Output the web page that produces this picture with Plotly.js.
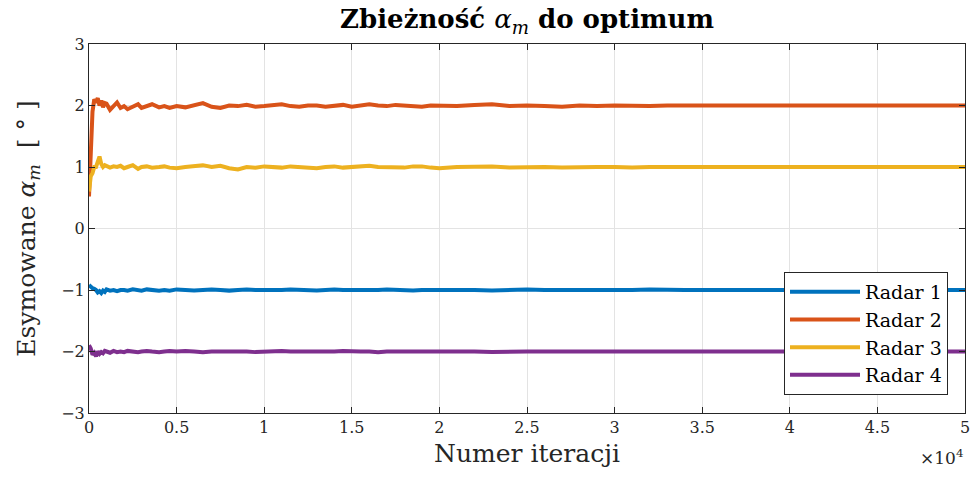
<!DOCTYPE html>
<html>
<head>
<meta charset="utf-8">
<script src="https://cdn.plot.ly/plotly-3.0.1.min.js"></script>
<style>
  html, body { margin: 0; padding: 0; background: #ffffff; }
  #chart { width: 973px; height: 483px; }
</style>
</head>
<body>
<div id="chart"></div>
<script>
// Iteration numbers at which the estimates are sampled
const iterations = [0, 100, 200, 300, 400, 500, 600, 700, 800, 900, 1000, 1200, 1400, 1600, 1800, 2000,
  2200, 2500, 2800, 3000, 3300, 3600, 4000, 4300, 4600, 5000, 5500, 6000, 6500, 7000, 7500, 8000, 8500,
  9000, 9500, 10000, 10500, 11000, 11500, 12000, 12500, 13000, 13500, 14000, 14500, 15000, 15500, 16000,
  16500, 17000, 17500, 18000, 18500, 19000, 19500, 20000, 21000, 22000, 23000, 24000, 25000, 26000,
  27000, 28000, 29000, 30000, 31000, 32000, 33000, 34000, 36000, 38000, 40000, 42000, 44000, 46000,
  48000, 50000];

// Estimated alpha_m for each radar [deg]
const radar1 = [-0.92, -0.95, -0.97, -0.98, -1.00, -1.04, -1.02, -1.05, -1.01, -1.03, -0.99, -1.01, -1.00, -1.02, -1.00, -1.00,
  -1.01, -0.99, -1.00, -1.01, -0.99, -1.00, -1.01, -1.00, -1.01, -0.99, -1.00, -1.01, -1.00, -0.99, -1.00, -1.01, -1.00,
  -0.99, -1.00, -1.00, -1.01, -1.00, -0.99, -1.00, -1.00, -1.01, -1.00, -0.99, -1.00, -1.00, -1.01, -1.00,
  -1.00, -0.99, -1.00, -1.00, -1.01, -1.00, -1.00, -0.99, -1.00, -1.00, -1.01, -1.00, -0.99, -1.00,
  -1.00, -1.00, -1.01, -1.00, -1.00, -0.99, -1.00, -1.00, -1.00, -1.00, -1.00, -1.00, -1.00, -1.00,
  -1.00, -1.00];
const radar2 = [0.52, 1.20, 1.90, 2.10, 2.05, 2.12, 2.00, 2.08, 1.97, 2.04, 2.03, 1.93, 1.98, 2.05, 1.96, 1.99,
  1.94, 1.98, 2.02, 1.96, 1.99, 2.02, 1.97, 1.99, 1.96, 1.99, 1.97, 2.00, 2.04, 1.98, 1.96, 2.00, 1.99,
  2.01, 1.98, 1.99, 2.00, 2.02, 1.99, 1.98, 2.00, 2.00, 1.98, 1.99, 2.01, 1.98, 2.00, 2.02,
  2.00, 1.99, 2.01, 2.00, 1.98, 1.98, 2.00, 2.00, 1.99, 2.01, 2.02, 1.99, 2.00, 1.99,
  1.98, 2.00, 1.99, 2.00, 1.99, 1.99, 2.00, 2.00, 1.99, 2.00, 2.00, 1.99, 2.00, 2.00,
  2.00, 2.00];
const radar3 = [0.60, 0.85, 0.90, 1.00, 1.00, 1.08, 1.17, 1.05, 1.00, 1.03, 1.02, 0.99, 1.01, 1.00, 1.02, 0.98,
  1.00, 1.03, 0.97, 1.00, 1.01, 0.99, 1.00, 1.01, 0.99, 0.98, 1.00, 1.01, 1.03, 1.00, 1.02, 0.98, 0.96,
  1.00, 0.99, 1.01, 1.00, 0.99, 1.01, 1.00, 0.98, 0.98, 1.00, 1.01, 0.99, 1.00, 1.01, 1.02,
  1.00, 1.00, 0.99, 0.99, 1.01, 1.01, 0.99, 0.98, 1.00, 1.00, 1.01, 0.99, 1.00, 1.00,
  0.99, 1.00, 1.00, 1.00, 0.99, 1.00, 1.00, 1.00, 1.00, 1.00, 1.00, 1.00, 1.00, 1.00,
  1.00, 1.00];
const radar4 = [-1.90, -1.95, -2.05, -2.02, -2.08, -2.00, -2.04, -2.01, -2.03, -1.99, -2.00, -2.02, -1.99, -2.01, -2.00, -2.01,
  -1.99, -2.00, -2.01, -2.00, -1.99, -2.00, -2.01, -2.00, -1.99, -2.00, -1.99, -2.00, -2.01, -2.00, -2.00, -1.99, -2.00,
  -2.00, -2.01, -2.00, -2.00, -1.99, -2.00, -2.00, -2.01, -2.00, -2.00, -2.00, -1.99, -2.00, -2.00, -2.00,
  -2.01, -2.00, -2.00, -2.00, -1.99, -2.00, -2.00, -2.00, -2.00, -2.00, -2.01, -2.00, -2.00, -2.00,
  -2.00, -1.99, -2.00, -2.00, -2.00, -2.00, -2.00, -2.00, -2.00, -2.00, -2.00, -2.00, -2.00, -2.00,
  -2.00, -2.00];

const seriesNames = ['Radar 1', 'Radar 2', 'Radar 3', 'Radar 4'];
const seriesColors = ['#0072BD', '#D95319', '#EDB120', '#7E2F8E'];

// Axis ticks: iterations shown in units of 10^4
const xTickVals = [0, 5000, 10000, 15000, 20000, 25000, 30000, 35000, 40000, 45000, 50000];
const xTickText = ['0', '0.5', '1', '1.5', '2', '2.5', '3', '3.5', '4', '4.5', '5'];
const yTickVals = [-3, -2, -1, 0, 1, 2, 3];

const serif = 'DejaVu Serif';
const ink = '#262626';

const traces = [radar1, radar2, radar3, radar4].map((ys, i) => ({
  type: 'scatter',
  mode: 'lines',
  name: '<span style="font-family:DejaVu Serif">' + seriesNames[i] + '</span>',
  x: iterations,
  y: ys,
  line: { color: seriesColors[i], width: 4 }
}));

const axisCommon = {
  showline: true,
  mirror: 'ticks',
  linecolor: ink,
  linewidth: 1,
  ticks: 'inside',
  ticklen: 6,
  tickcolor: ink,
  showgrid: true,
  gridcolor: '#e3e3e3',
  gridwidth: 1,
  zeroline: false,
  tickfont: { family: serif, size: 16, color: ink }
};

const layout = {
  width: 973,
  height: 483,
  paper_bgcolor: '#ffffff',
  plot_bgcolor: '#ffffff',
  margin: { l: 89, r: 8, t: 44, b: 70 },
  showlegend: true,
  font: { family: serif, color: ink },
  title: {
    text: '<b>Zbieżność </b><i>α</i><sub><i>m</i></sub><b> do optimum</b>',
    font: { family: serif, size: 26, color: '#000000' },
    xref: 'paper', x: 0.5, xanchor: 'center', y: 0.96, yanchor: 'middle'
  },
  xaxis: Object.assign({}, axisCommon, {
    range: [0, 50000],
    tickmode: 'array',
    tickvals: xTickVals,
    ticktext: xTickText,
    title: { text: 'Numer iteracji', font: { family: serif, size: 25, color: ink }, standoff: 8 }
  }),
  yaxis: Object.assign({}, axisCommon, {
    range: [-3, 3],
    tickmode: 'array',
    tickvals: yTickVals,
    title: { text: 'Esymowane <i>α</i><sub><i>m</i></sub>  [ ° ]', font: { family: serif, size: 25, color: ink }, standoff: 18 }
  }),
  legend: {
    x: 0.9806, xanchor: 'right',
    y: 0.049, yanchor: 'bottom',
    bgcolor: '#ffffff',
    bordercolor: ink,
    borderwidth: 1,
    font: { family: serif, size: 19, color: '#000000' },
    tracegroupgap: 0,
    itemwidth: 70
  },
  annotations: [{
    xref: 'paper', yref: 'paper',
    x: 1.0, y: -0.085,
    xanchor: 'right', yanchor: 'top',
    text: '×10<sup>4</sup>',
    showarrow: false,
    font: { family: serif, size: 17, color: ink }
  }]
};

Plotly.newPlot('chart', traces, layout, { displayModeBar: false, staticPlot: true });
</script>
</body>
</html>
